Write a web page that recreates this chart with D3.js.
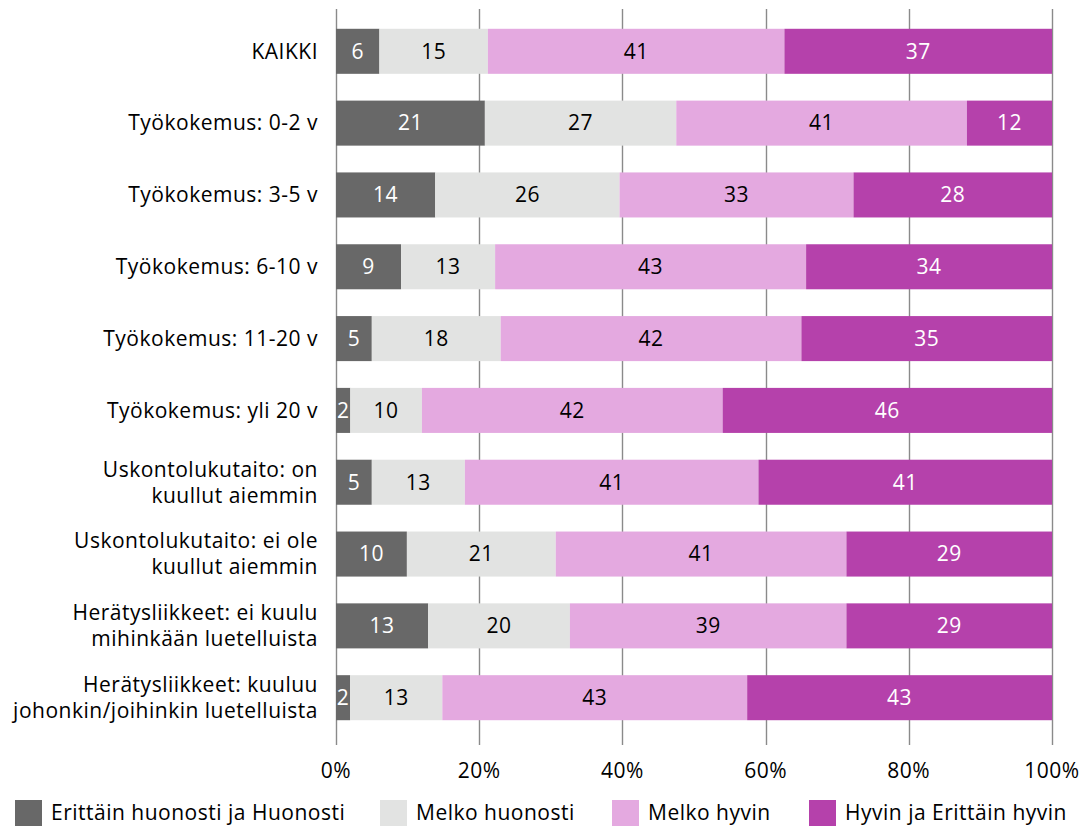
<!DOCTYPE html>
<html><head><meta charset="utf-8">
<script src="https://cdn.jsdelivr.net/npm/d3@7/dist/d3.min.js"></script>
<style>body{margin:0;background:#fff}svg{display:block;font-family:"Open Sans",Lato,sans-serif;letter-spacing:0.5px}</style>
</head><body><svg id="c" width="1085" height="826"></svg>
<script>
const categories = [
  "KAIKKI",
  "Työkokemus: 0-2 v",
  "Työkokemus: 3-5 v",
  "Työkokemus: 6-10 v",
  "Työkokemus: 11-20 v",
  "Työkokemus: yli 20 v",
  "Uskontolukutaito: on\nkuullut aiemmin",
  "Uskontolukutaito: ei ole\nkuullut aiemmin",
  "Herätysliikkeet: ei kuulu\nmihinkään luetelluista",
  "Herätysliikkeet: kuuluu\njohonkin/joihinkin luetelluista"
];
const seriesNames = ["Erittäin huonosti ja Huonosti","Melko huonosti","Melko hyvin","Hyvin ja Erittäin hyvin"];
const huono      = [6,21,14,9,5,2,5,10,13,2];
const melkoHuono = [15,27,26,13,18,10,13,21,20,13];
const melkoHyva  = [41,41,33,43,42,42,41,41,39,43];
const hyva       = [37,12,28,34,35,46,41,29,29,43];
const tickLabels = ["0%","20%","40%","60%","80%","100%"];
const colors = ["#686868","#e2e3e2","#e4a9e0","#b541ab"];
const textColors = ["#ffffff","#000000","#000000","#ffffff"];

const seriesArrays = [huono, melkoHuono, melkoHyva, hyva];
const rows = categories.map((c,i)=>{const o={cat:c}; seriesNames.forEach((s,j)=>o[s]=seriesArrays[j][i]); return o;});
const stack = d3.stack().keys(seriesNames).offset(d3.stackOffsetExpand)(rows);

const svg = d3.select("#c");
const x = d3.scaleLinear().domain([0,1]).range([336,1052]);
const y = d3.scaleBand().domain(categories).range([2,747]).padding(0.373);
const fs = 21;

const ticks = [0,0.2,0.4,0.6,0.8,1];
svg.append("g").selectAll("line").data(ticks).join("line")
  .attr("x1",d=>Math.round(x(d))+0.5).attr("x2",d=>Math.round(x(d))+0.5)
  .attr("y1",9).attr("y2",745).attr("stroke","#8a8a8a").attr("stroke-width",1.4);

const g = svg.append("g");
stack.forEach((layer,li)=>{
  g.append("g").selectAll("rect").data(layer).join("rect")
    .attr("x",d=>x(d[0])).attr("width",d=>x(d[1])-x(d[0]))
    .attr("y",d=>y(d.data.cat)).attr("height",y.bandwidth())
    .attr("fill",colors[li]);
  g.append("g").selectAll("text").data(layer).join("text")
    .attr("x",d=>(x(d[0])+x(d[1]))/2).attr("y",d=>y(d.data.cat)+y.bandwidth()/2)
    .attr("dy","0.35em").attr("text-anchor","middle")
    .attr("font-size",fs).attr("fill",textColors[li])
    .text(d=>d.data[seriesNames[li]]);
});

const cl = svg.append("g");
categories.forEach(c=>{
  const lines = c.split("\n");
  const cy = y(c)+y.bandwidth()/2;
  const lh = 26;
  const t = cl.append("text").attr("text-anchor","end").attr("font-size",fs).attr("fill","#000");
  lines.forEach((l,i)=>{
    t.append("tspan").attr("x",318).attr("y",cy + (i-(lines.length-1)/2)*lh).attr("dy","0.35em").text(l);
  });
});

svg.append("g").selectAll("text").data(ticks).join("text")
  .attr("x",d=>x(d)).attr("y",771).attr("dy","0.35em").attr("text-anchor","middle")
  .attr("font-size",fs).attr("fill","#000").text((d,i)=>tickLabels[i]);

const legX = [15,380,612,809];
const lg = svg.append("g");
seriesNames.forEach((s,i)=>{
  lg.append("rect").attr("x",legX[i]).attr("y",800).attr("width",27).attr("height",26).attr("fill",colors[i]);
  lg.append("text").attr("x",legX[i]+36).attr("y",813).attr("dy","0.35em").attr("font-size",fs).attr("fill","#000").text(s);
});
</script></body></html>
